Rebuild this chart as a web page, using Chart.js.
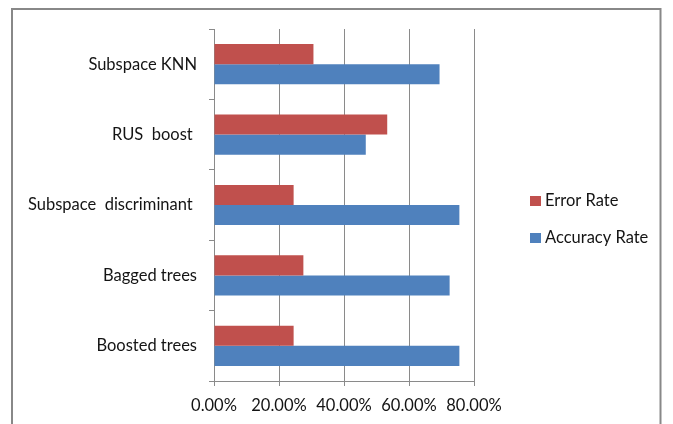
<!DOCTYPE html>
<html>
<head>
<meta charset="utf-8">
<script src="https://cdn.jsdelivr.net/npm/chart.js@4/dist/chart.umd.min.js"></script>
<style>
  html, body { margin: 0; padding: 0; background: #ffffff; }
  #wrap { width: 673px; height: 424px; position: relative; }
</style>
</head>
<body>
<div id="wrap"><canvas id="chart" width="673" height="424"></canvas></div>
<script>
// Classifier names (top to bottom)
const categories = ["Subspace KNN", "RUS  boost ", "Subspace  discriminant ", "Bagged trees", "Boosted trees"];
// Rates in percent
const errorRate = [30.6, 53.3, 24.5, 27.5, 24.5];
const accuracyRate = [69.4, 46.7, 75.5, 72.5, 75.5];
// Value axis ticks
const xTicks = [0, 20, 40, 60, 80];

const FONT = "Lato, 'Open Sans', sans-serif";
const TEXT = "#141414";
const GRID = "#8a8a8a";

// Chart frame drawn around everything
const framePlugin = {
  id: 'frame',
  beforeDraw(chart) {
    const ctx = chart.ctx;
    ctx.save();
    ctx.fillStyle = '#ffffff';
    ctx.fillRect(0, 0, chart.width, chart.height);
    ctx.strokeStyle = '#888888';
    ctx.lineWidth = 2;
    ctx.strokeRect(12, 9, chart.width - 24.5, chart.height + 20);
    ctx.restore();
  }
};

// Legend column to the right of the plot
const sideLegend = {
  id: 'sideLegend',
  afterDraw(chart) {
    const ctx = chart.ctx;
    const x = chart.chartArea.right + 56;
    const yc = (chart.chartArea.top + chart.chartArea.bottom) / 2;
    const rows = [yc - 4, yc + 33];
    ctx.save();
    ctx.font = "16.5px " + FONT;
    ctx.textBaseline = 'middle';
    ctx.textAlign = 'left';
    chart.data.datasets.forEach((ds, i) => {
      const y = rows[i];
      ctx.fillStyle = ds.backgroundColor;
      ctx.fillRect(x, y - 5, 11, 10);
      ctx.fillStyle = TEXT;
      ctx.fillText(ds.label, x + 15, y);
    });
    ctx.restore();
  }
};

new Chart(document.getElementById('chart'), {
  type: 'bar',
  data: {
    labels: categories,
    datasets: [
      { label: 'Error Rate', data: errorRate, backgroundColor: '#C0504D',
        categoryPercentage: 0.5714, barPercentage: 1.0 },
      { label: 'Accuracy Rate', data: accuracyRate, backgroundColor: '#4F81BD',
        categoryPercentage: 0.5714, barPercentage: 1.0 }
    ]
  },
  options: {
    indexAxis: 'y',
    responsive: false,
    animation: false,
    devicePixelRatio: 1,
    layout: { padding: { left: 0, top: 29, right: 199, bottom: 0 } },
    plugins: {
      legend: { display: false },
      tooltip: { enabled: false }
    },
    scales: {
      x: {
        min: 0,
        max: 80,
        afterBuildTicks(scale) { scale.ticks = xTicks.map(v => ({ value: v })); },
        afterFit(scale) { scale.height = 43; },
        grid: { color: GRID, lineWidth: 1, drawTicks: true, tickLength: 5, tickColor: GRID },
        border: { display: true, color: GRID, width: 1 },
        ticks: {
          color: TEXT,
          font: { family: FONT, size: 16.5 },
          padding: 10,
          maxRotation: 0,
          callback: v => Number(v).toFixed(2) + '%'
        }
      },
      y: {
        afterFit(scale) { scale.width = 214; },
        grid: { drawOnChartArea: false, drawTicks: true, tickLength: 5, color: GRID, tickColor: GRID, offset: true },
        border: { display: true, color: GRID, width: 1 },
        ticks: {
          color: TEXT,
          font: { family: FONT, size: 16.5 },
          padding: 12
        }
      }
    }
  },
  plugins: [framePlugin, sideLegend]
});
</script>
</body>
</html>
